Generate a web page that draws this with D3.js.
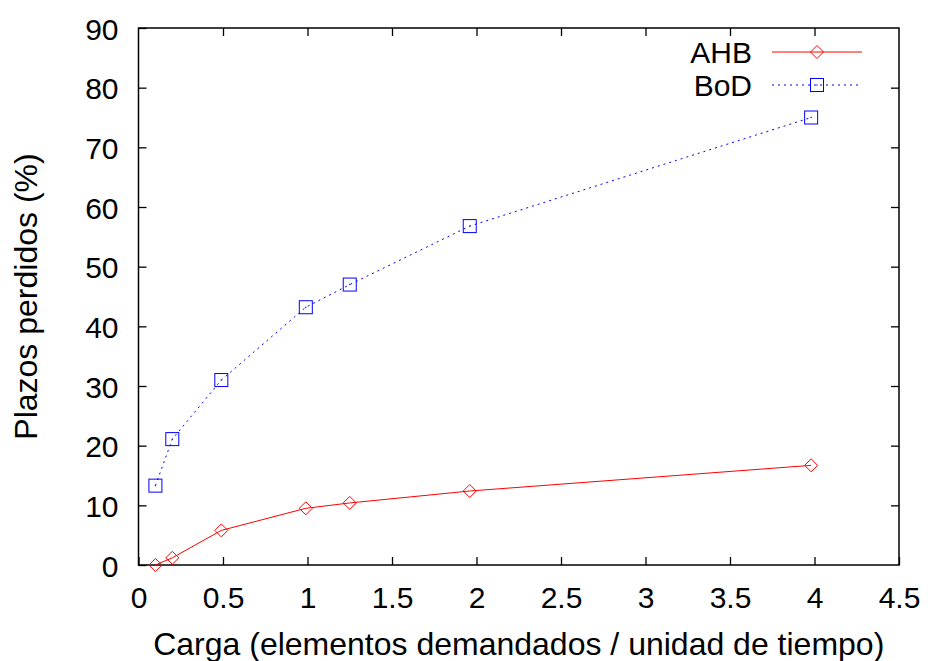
<!DOCTYPE html>
<html>
<head>
<meta charset="utf-8">
<script src="https://cdn.jsdelivr.net/npm/d3@7"></script>
<style>
  body { margin: 0; background: #fff; }
  svg { display: block; font-family: "Liberation Sans", Arial, sans-serif; }
</style>
</head>
<body>
<svg id="chart" width="928" height="661"></svg>
<script>
// data
var carga = [0.1, 0.2, 0.49, 0.99, 1.25, 1.96, 3.98];
var ahb = [0, 1.2, 5.8, 9.5, 10.4, 12.4, 16.7];
var bod = [13.3, 21.1, 31, 43.2, 47, 56.8, 75];
var xTicks = [0, 0.5, 1, 1.5, 2, 2.5, 3, 3.5, 4, 4.5];
var yTicks = [0, 10, 20, 30, 40, 50, 60, 70, 80, 90];
var seriesNames = ['AHB', 'BoD'];

var svg = d3.select('#chart');
var margin = { top: 28, right: 29, bottom: 96, left: 138.5 };
var width = 928 - margin.left - margin.right;
var height = 661 - margin.top - margin.bottom;

var x = d3.scaleLinear().domain([0, 4.5]).range([0, width]);
var y = d3.scaleLinear().domain([0, 90]).range([height, 0]);

var g = svg.append('g')
  .attr('transform', `translate(${margin.left},${margin.top})`);

// ticks on all four sides, pointing inward (gnuplot style)
var tickLen = 8;
g.append('g')
  .attr('transform', `translate(0,${height})`)
  .call(d3.axisBottom(x).tickValues(xTicks).tickFormat(d3.format('')).tickSizeInner(-tickLen).tickSizeOuter(0).tickPadding(22))
  .call(a => a.select('.domain').remove());
g.append('g')
  .call(d3.axisTop(x).tickValues(xTicks.slice(1, -1)).tickFormat('').tickSizeInner(-tickLen).tickSizeOuter(0))
  .call(a => a.select('.domain').remove());
g.append('g')
  .attr('class', 'yleft')
  .call(d3.axisLeft(y).tickValues(yTicks).tickSizeInner(-tickLen).tickSizeOuter(0).tickPadding(20))
  .call(a => a.select('.domain').remove());
g.append('g')
  .attr('transform', `translate(${width},0)`)
  .call(d3.axisRight(y).tickValues(yTicks.slice(1, -1)).tickFormat('').tickSizeInner(-tickLen).tickSizeOuter(0))
  .call(a => a.select('.domain').remove());

g.selectAll('.tick line').attr('stroke', '#000').attr('stroke-width', 1.3);
g.selectAll('.tick text').attr('font-size', 30).attr('fill', '#000')
  .attr('font-family', '"Liberation Sans", Arial, sans-serif');
g.selectAll('.yleft .tick text').attr('dy', '0.37em');

g.append('rect')
  .attr('width', width).attr('height', height)
  .attr('fill', 'none').attr('stroke', '#000').attr('stroke-width', 1.5);

// axis titles
svg.append('text')
  .attr('x', margin.left + width / 2).attr('y', 655)
  .attr('text-anchor', 'middle').attr('font-size', 32)
  .text('Carga (elementos demandados / unidad de tiempo)');
svg.append('text')
  .attr('transform', `translate(37,${margin.top + height / 2}) rotate(-90)`)
  .attr('text-anchor', 'middle').attr('font-size', 32)
  .text('Plazos perdidos (%)');

var line = d3.line()
  .x(d => x(d[0]))
  .y(d => y(d[1]));

var ahbPts = carga.map((c, i) => [c, ahb[i]]);
var bodPts = carga.map((c, i) => [c, bod[i]]);

function diamond(sel, cx, cy) {
  var r = 6.5;
  sel.append('path')
    .attr('d', `M${cx},${cy - r}L${cx + r},${cy}L${cx},${cy + r}L${cx - r},${cy}Z`)
    .attr('fill', 'none').attr('stroke', '#ff0000').attr('stroke-width', 1);
}
function square(sel, cx, cy) {
  var h = 6.5;
  sel.append('rect')
    .attr('x', cx - h).attr('y', cy - h).attr('width', 2 * h).attr('height', 2 * h)
    .attr('fill', 'none').attr('stroke', '#0000ff').attr('stroke-width', 1);
  sel.append('circle').attr('cx', cx).attr('cy', cy).attr('r', 0.7).attr('fill', '#0000ff');
}

// AHB
g.append('path').datum(ahbPts)
  .attr('d', line).attr('fill', 'none')
  .attr('stroke', '#ff0000').attr('stroke-width', 1);
ahbPts.forEach(p => diamond(g, x(p[0]), y(p[1])));

// BoD
g.append('path').datum(bodPts)
  .attr('d', line).attr('fill', 'none')
  .attr('stroke', '#0000ff').attr('stroke-width', 1)
  .attr('stroke-dasharray', '2,4');
bodPts.forEach(p => square(g, x(p[0]), y(p[1])));

// legend
var legend = svg.append('g');
var legY = [52, 85];
seriesNames.forEach((name, i) => {
  legend.append('text')
    .attr('x', 752).attr('y', legY[i] + 10.5)
    .attr('text-anchor', 'end').attr('font-size', 30)
    .text(name);
  legend.append('line')
    .attr('x1', 772).attr('x2', 862).attr('y1', legY[i]).attr('y2', legY[i])
    .attr('stroke', i == 0 ? '#ff0000' : '#0000ff').attr('stroke-width', 1)
    .attr('stroke-dasharray', i == 0 ? null : '2,4');
  if (i == 0) diamond(legend, 817, legY[i]);
  else square(legend, 817, legY[i]);
});
</script>
</body>
</html>
